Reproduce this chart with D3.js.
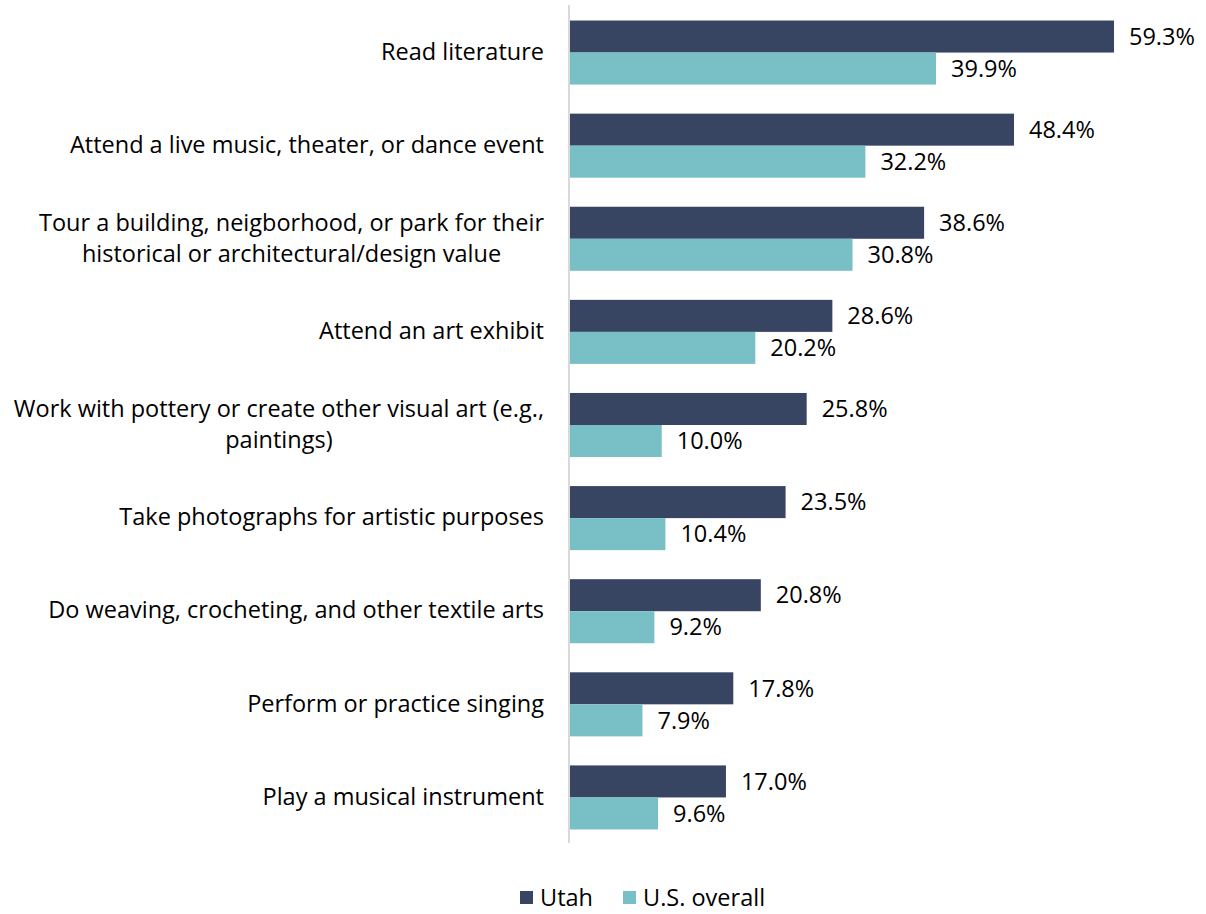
<!DOCTYPE html>
<html>
<head>
<meta charset="utf-8">
<script src="https://cdn.jsdelivr.net/npm/d3@7"></script>
<style>
  html, body { margin: 0; padding: 0; background: #fff; }
  svg { display: block; font-family: "Open Sans", Lato, sans-serif; }
</style>
</head>
<body>
<svg id="chart" width="1206" height="914"></svg>
<script>
// Share of adults who did each activity in the past year
const categories = [
  ["Read literature"],
  ["Attend a live music, theater, or dance event"],
  ["Tour a building, neigborhood, or park for their", "historical or architectural/design value"],
  ["Attend an art exhibit"],
  ["Work with pottery or create other visual art (e.g.,", "paintings)"],
  ["Take photographs for artistic purposes"],
  ["Do weaving, crocheting, and other textile arts"],
  ["Perform or practice singing"],
  ["Play a musical instrument"]
];
const utahValues = [59.3, 48.4, 38.6, 28.6, 25.8, 23.5, 20.8, 17.8, 17.0];
const usValues   = [39.9, 32.2, 30.8, 20.2, 10.0, 10.4, 9.2, 7.9, 9.6];
const seriesNames = ["Utah", "U.S. overall"];
const seriesColors = ["#374563", "#79c0c6"];

const svg = d3.select("#chart");
const fontSize = 23.5;

const x = d3.scaleLinear().domain([0, 59.3]).range([570, 1114]);
const y = d3.scaleBand().domain(d3.range(categories.length)).range([6, 844]).paddingInner(0.312).paddingOuter(0.156);
const sub = d3.scaleBand().domain([0, 1]).range([0, y.bandwidth()]);

const series = [utahValues, usValues];

// bars and value labels
series.forEach((vals, s) => {
  svg.append("g").selectAll("rect").data(vals).join("rect")
    .attr("x", x(0))
    .attr("y", (d, i) => y(i) + sub(s))
    .attr("width", d => x(d) - x(0))
    .attr("height", sub.bandwidth())
    .attr("fill", seriesColors[s]);

  svg.append("g").selectAll("text").data(vals).join("text")
    .attr("x", d => x(d) + 15)
    .attr("y", (d, i) => y(i) + sub(s) + sub.bandwidth() / 2)
    .attr("dy", "0.35em")
    .attr("font-size", fontSize)
    .attr("fill", "#000")
    .text(d => d.toFixed(1) + "%");
});

// vertical axis line
svg.append("line")
  .attr("x1", 569).attr("x2", 569)
  .attr("y1", 5).attr("y2", 843)
  .attr("stroke", "#d9d9d9").attr("stroke-width", 2);

// category labels (wrapped lines centred within a right-aligned block)
const labelRight = 544;
const lineH = 31;
const lg = svg.append("g");
categories.forEach((lines, i) => {
  const cy = y(i) + y.bandwidth() / 2 - 1;
  const t = lg.append("text")
    .attr("font-size", fontSize)
    .attr("fill", "#000");
  const spans = lines.map(ln => t.append("tspan").text(ln));
  const widths = spans.map(s => s.node().getComputedTextLength());
  const maxW = d3.max(widths);
  const centre = labelRight - maxW / 2;
  spans.forEach((s, k) => {
    s.attr("x", centre)
     .attr("text-anchor", "middle")
     .attr("y", cy + (k - (lines.length - 1) / 2) * lineH)
     .attr("dy", "0.35em");
  });
});

// legend
const legend = svg.append("g");
const legendX = [520, 623];
seriesNames.forEach((name, s) => {
  legend.append("rect")
    .attr("x", legendX[s]).attr("y", 891)
    .attr("width", 13).attr("height", 13)
    .attr("fill", seriesColors[s]);
  legend.append("text")
    .attr("x", legendX[s] + 20).attr("y", 898)
    .attr("dy", "0.35em")
    .attr("font-size", fontSize)
    .attr("fill", "#000")
    .text(name);
});
</script>
</body>
</html>
